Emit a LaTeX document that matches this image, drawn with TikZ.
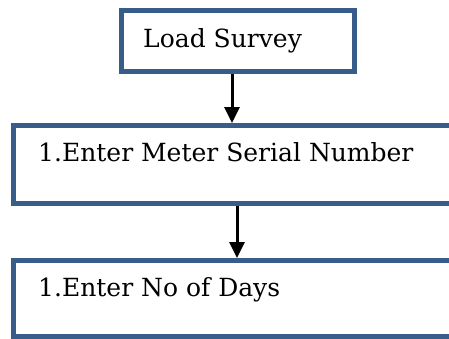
\documentclass[tikz,border=0pt]{standalone}
\usepackage{fontspec}
\setmainfont{DejaVu Serif}
\usetikzlibrary{arrows.meta}
\definecolor{boxColor}{RGB}{56,93,138}
\tikzstyle{flowBox} = [draw=boxColor, line width=5pt, fill=white, anchor=north west, inner sep=0pt]
\tikzstyle{boxText} = [anchor=base west, inner sep=0pt, font=\fontsize{25}{30}\selectfont]
\tikzstyle{flowArrow} = [line width=3pt, -{Triangle[length=16pt, width=15pt]}]

\begin{document}
\begin{tikzpicture}[x=1pt, y=-1pt]
      \useasboundingbox (0,0) rectangle (449,338);

      \node [flowBox, minimum width=233pt, minimum height=61pt] (survey) at (119,8) {};
      \node [boxText, xshift=24pt, yshift=-39pt] (surveyText) at (survey.north west) {Load Survey};

      \node [flowBox, minimum width=444pt, minimum height=78pt] (serial) at (11,123) {};
      \node [boxText, xshift=27pt, yshift=-38pt] (serialText) at (serial.north west) {1.Enter Meter Serial Number};

      \node [flowBox, minimum width=444pt, minimum height=76pt] (days) at (11,258) {};
      \node [boxText, xshift=27pt, yshift=-38pt] (daysText) at (days.north west) {1.Enter No of Days};

      \draw [flowArrow] ([xshift=-6pt]survey.south) -- ([xshift=-6pt]survey.south |- serial.north);
      \draw [flowArrow] ([xshift=-1pt]survey.south |- serial.south) -- ([xshift=-1pt]survey.south |- days.north);
\end{tikzpicture}
\end{document}
